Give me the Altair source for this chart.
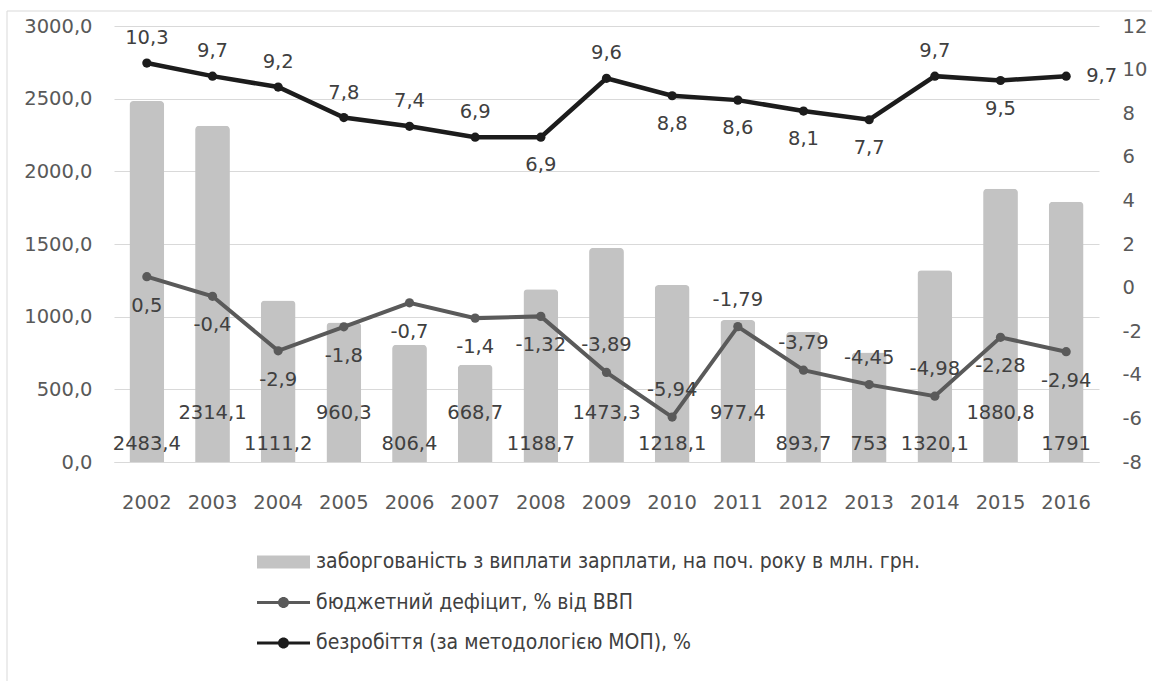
import altair as alt
import pandas as pd

# ---- data ----
years = [str(y) for y in range(2002, 2017)]
arrears = [2483.4, 2314.1, 1111.2, 960.3, 806.4, 668.7, 1188.7, 1473.3,
           1218.1, 977.4, 893.7, 753, 1320.1, 1880.8, 1791]
deficit = [0.5, -0.4, -2.9, -1.8, -0.7, -1.4, -1.32, -3.89,
           -5.94, -1.79, -3.79, -4.45, -4.98, -2.28, -2.94]
unemployment = [10.3, 9.7, 9.2, 7.8, 7.4, 6.9, 6.9, 9.6,
                8.8, 8.6, 8.1, 7.7, 9.7, 9.5, 9.7]

series_names = [
    "заборгованість з виплати зарплати, на поч. року в млн. грн.",
    "бюджетний дефіцит, % від ВВП",
    "безробіття (за методологією МОП), %",
]

# where each data label sits relative to its mark
arrears_label_row = ["low", "high", "low", "high", "low", "high", "low", "high",
                     "low", "high", "low", "low", "low", "high", "low"]
deficit_label_side = ["below"] * 7 + ["above"] * 6 + ["below"] * 2
unemp_label_side = ["above", "above", "above", "above", "above", "above", "below",
                    "above", "below", "below", "below", "below", "above", "below", "right"]

# ---- styling ----
NUM_FONT = "DejaVu Sans"
LEG_FONT = "DejaVu Sans Condensed, Liberation Sans Narrow, Roboto Condensed, Roboto"
FS = 19.5
AXIS_TXT = "#595959"
LABEL_TXT = "#404040"
GRID = "#d9d9d9"
BAR = "#c3c3c3"
DEF_COLOR = "#5a5a5a"
UNEMP_COLOR = "#1c1c1c"


def fmt(v):
    return f"{v:g}".replace(".", ",")


df = pd.DataFrame({
    "year": years,
    "arrears": arrears,
    "deficit": deficit,
    "unemployment": unemployment,
    "arrears_label": [fmt(v) for v in arrears],
    "deficit_label": [fmt(v) for v in deficit],
    "unemp_label": [fmt(v) for v in unemployment],
    "arrears_row": arrears_label_row,
    "deficit_side": deficit_label_side,
    "unemp_side": unemp_label_side,
})

base = alt.Chart(df)

# identical axis specs in every layer so the shared axes merge cleanly
x_axis = alt.Axis(labelAngle=0, ticks=False, domainColor=GRID, domainWidth=1,
                  labelPadding=31, labelFont=NUM_FONT, labelFontSize=FS,
                  labelColor=AXIS_TXT, title=None)
x_scale = alt.Scale(paddingInner=0.47, paddingOuter=0.235)
X = alt.X("year:N", sort=years, title=None, scale=x_scale, axis=x_axis)

left_scale = alt.Scale(domain=[0, 3000], nice=False)
right_scale = alt.Scale(domain=[-8, 12], nice=False)

left_axis = alt.Axis(orient="left", values=list(range(0, 3001, 500)), grid=True,
                     gridColor=GRID, gridWidth=1, domain=False, ticks=False,
                     labelPadding=22, labelFont=NUM_FONT, labelFontSize=FS,
                     labelColor=AXIS_TXT, title=None,
                     labelExpr="replace(format(datum.value, '.1f'), '.', ',')")
right_axis = alt.Axis(orient="right", values=list(range(-8, 13, 2)), grid=False,
                      domain=False, ticks=False, labelPadding=23, labelFont=NUM_FONT,
                      labelFontSize=FS, labelColor=AXIS_TXT, title=None,
                      labelExpr="'' + datum.value")


def y_left(field):
    return alt.Y(field, scale=left_scale, axis=left_axis, title=None)


def y_right(field):
    return alt.Y(field, scale=right_scale, axis=right_axis, title=None)


# ---- chart frame ----
frame = alt.Chart(pd.DataFrame({"k": [0]})).mark_rect(
    fillOpacity=0, stroke=GRID, strokeWidth=1
).encode(
    x=alt.value(-107), x2=alt.value(1200), y=alt.value(-15), y2=alt.value(800)
)

# ---- bars on the left axis ----
bars = base.mark_bar(color=BAR, cornerRadiusTopLeft=4, cornerRadiusTopRight=4).encode(
    x=X, y=y_left("arrears:Q"),
)


def bar_labels(row, dy):
    return base.transform_filter(alt.datum.arrears_row == row).transform_calculate(
        zero="0"
    ).mark_text(font=NUM_FONT, fontSize=FS, color=LABEL_TXT, baseline="middle", dy=dy).encode(
        x=X, y=y_left("zero:Q"), text="arrears_label:N",
    )


# merged legend: fill + shape share one domain
legend = alt.Legend(
    orient="none", legendX=150.5, legendY=517, direction="vertical", title=None,
    symbolSize=1444, symbolStrokeWidth=0, labelOffset=13.5, labelFont=LEG_FONT,
    labelFontSize=21, labelColor=LABEL_TXT, rowPadding=11.5, labelLimit=1000, padding=0,
)
rect_path = "M-1.395,-0.342L1.395,-0.342L1.395,0.342L-1.395,0.342Z"
line_dot_path = ("M-1.395,-0.08L1.395,-0.08L1.395,0.08L-1.395,0.08Z"
                 "M-0.29,0A0.29,0.29,0,1,1,0.29,0A0.29,0.29,0,1,1,-0.29,0Z")
legend_layer = alt.Chart(pd.DataFrame({"series": series_names})).transform_filter(
    "false"
).mark_point(filled=True, opacity=1, size=1444).encode(
    fill=alt.Fill("series:N", sort=series_names,
                  scale=alt.Scale(domain=series_names, range=[BAR, DEF_COLOR, UNEMP_COLOR]),
                  legend=legend),
    shape=alt.Shape("series:N", sort=series_names,
                    scale=alt.Scale(domain=series_names,
                                    range=[rect_path, line_dot_path, line_dot_path]),
                    legend=legend),
)

left = alt.layer(frame, bars, bar_labels("low", -18), bar_labels("high", -49), legend_layer)

# ---- lines on the right axis ----
def_line = base.mark_line(color=DEF_COLOR, strokeWidth=4).encode(x=X, y=y_right("deficit:Q"))
def_pts = base.mark_circle(color=DEF_COLOR, size=85, opacity=1).encode(x=X, y=y_right("deficit:Q"))
unemp_line = base.mark_line(color=UNEMP_COLOR, strokeWidth=4.5).encode(x=X, y=y_right("unemployment:Q"))
unemp_pts = base.mark_circle(color=UNEMP_COLOR, size=85, opacity=1).encode(x=X, y=y_right("unemployment:Q"))


def line_labels(side_field, side, value_field, text_field, dx=0, dy=0, align="center"):
    return base.transform_filter(alt.datum[side_field] == side).mark_text(
        font=NUM_FONT, fontSize=FS, color=LABEL_TXT, baseline="middle",
        align=align, dx=dx, dy=dy,
    ).encode(x=X, y=y_right(f"{value_field}:Q"), text=f"{text_field}:N")


right = alt.layer(
    def_line, def_pts,
    line_labels("deficit_side", "above", "deficit", "deficit_label", dy=-27),
    line_labels("deficit_side", "below", "deficit", "deficit_label", dy=29),
    unemp_line, unemp_pts,
    line_labels("unemp_side", "above", "unemployment", "unemp_label", dy=-25),
    line_labels("unemp_side", "below", "unemployment", "unemp_label", dy=28),
    line_labels("unemp_side", "right", "unemployment", "unemp_label", dx=20, align="left"),
)

chart = alt.layer(left, right).resolve_scale(y="independent").properties(
    width=985, height=436,
    autosize=alt.AutoSizeParams(type="none"),
    padding={"left": 114, "top": 26, "right": 53, "bottom": 219},
    background="white",
).configure_view(stroke=None)

chart.save("out.html", embed_options={"renderer": "svg", "actions": False})
